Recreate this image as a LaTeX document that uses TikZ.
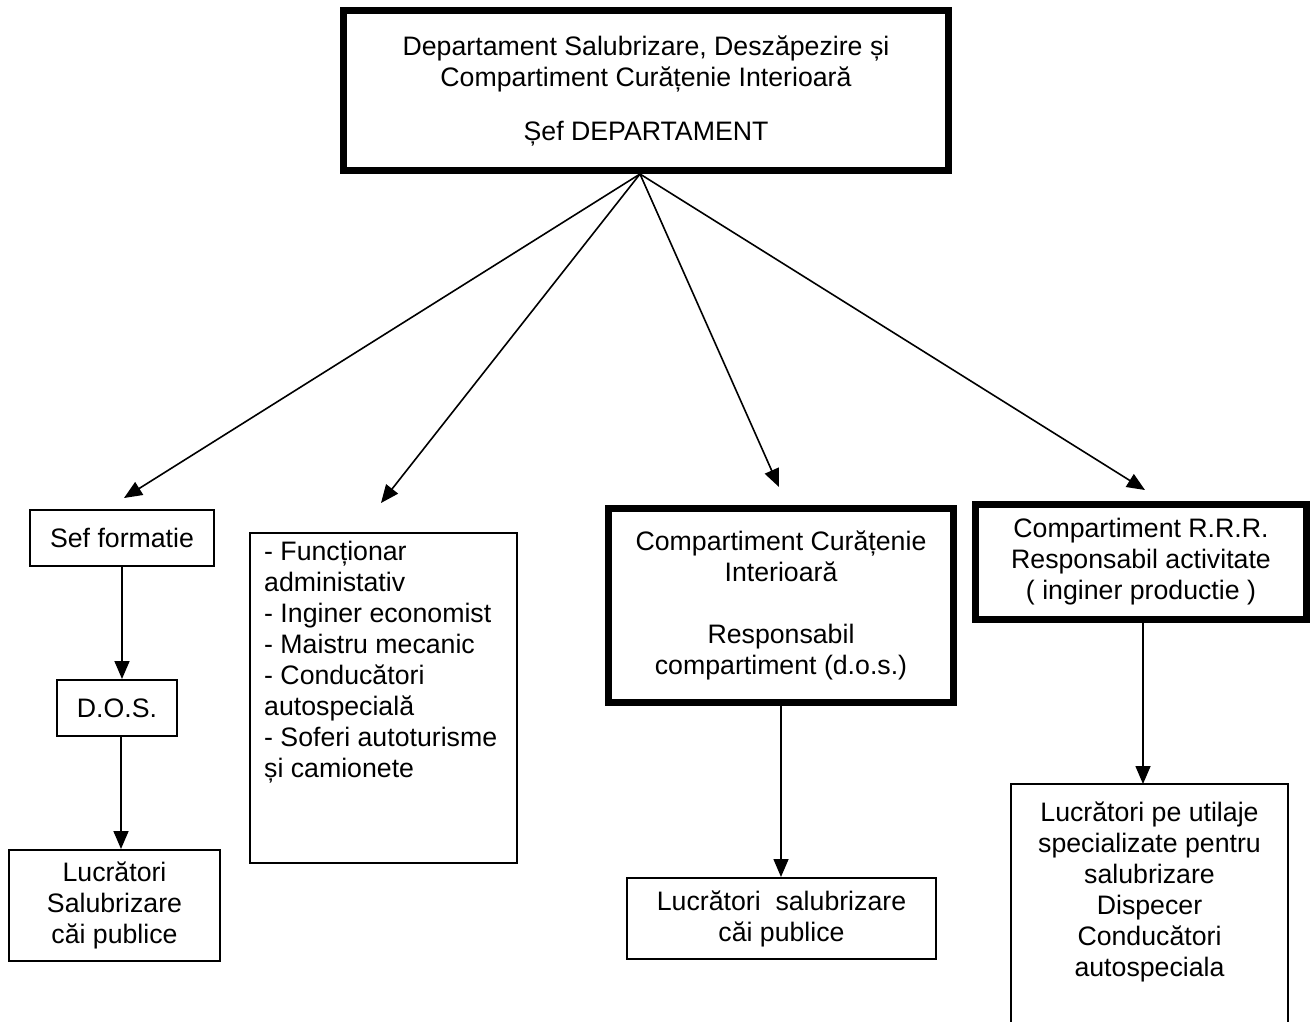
\documentclass[tikz,border=0pt]{standalone}
\usepackage{fontspec}
\setmainfont{Liberation Sans}
\usetikzlibrary{arrows.meta}
\begin{document}
\begin{tikzpicture}[x=1pt,y=-1pt,
  every node/.style={font=\fontsize{26.7}{31}\selectfont, inner sep=0pt},
  thinbox/.style={draw, line width=2pt, rectangle, align=center},
  thickbox/.style={draw, line width=7pt, rectangle, align=center},
  conn/.style={line width=1.6pt, -{Triangle[length=18pt,width=15pt]}},
  plain/.style={line width=2pt}]
\useasboundingbox (0,0) rectangle (1315,1021);

% top box
\node[thickbox, minimum width=605pt, minimum height=160pt] (top) at (646,90.5)
  {Departament Salubrizare, Deszăpezire și\\Compartiment Curățenie Interioară\\[23pt]Șef DEPARTAMENT};

% second level
\node[thinbox, minimum width=184pt, minimum height=56pt] (sf) at (122,538) {Sef formatie};
\node[thinbox, minimum width=267pt, minimum height=330pt] (lst) at (383.5,698) {};
\node[anchor=north west, align=left] (lsttxt) at (264,541)
  {- Funcționar\\administativ\\- Inginer economist\\- Maistru mecanic\\- Conducători\\autospecială\\- Soferi autoturisme\\și camionete};
\node[thickbox, minimum width=345pt, minimum height=194pt] (cci) at (781,605.5)
  {Compartiment Curățenie\\Interioară\\[31pt]Responsabil\\compartiment (d.o.s.)};
\node[thickbox, minimum width=331pt, minimum height=115pt] (rrr) at (1141,562)
  {Compartiment R.R.R.\\Responsabil activitate\\( inginer productie )};

% third level
\node[thinbox, minimum width=120pt, minimum height=56pt] (dos) at (117,708) {D.O.S.};
\node[thinbox, minimum width=211pt, minimum height=111pt] (lucl) at (114.5,905.5)
  {Lucrători\\Salubrizare\\căi publice};
\node[thinbox, minimum width=309pt, minimum height=81pt] (lucm) at (781.5,918.5)
  {Lucrători\ \ salubrizare\\căi publice};

% bottom right open box
\coordinate (brtop) at (1143,784);
\draw[plain] (1011,1023) -- (1011,784) -- (1288,784) -- (1288,1023);
\node[anchor=north, align=center] (br) at (1149.5,802)
  {Lucrători pe utilaje\\specializate pentru\\salubrizare\\Dispecer\\Conducători\\autospeciala};

% arrow tips from top
\coordinate (t1) at (124,498);
\coordinate (t2) at (381,503);
\coordinate (t3) at (779,487);
\coordinate (t4) at (1145,490);
\draw[conn] ([xshift=-6pt]top.south) -- (t1);
\draw[conn] ([xshift=-6pt]top.south) -- (t2);
\draw[conn] ([xshift=-6pt]top.south) -- (t3);
\draw[conn] ([xshift=-6pt]top.south) -- (t4);

% vertical connectors
\draw[conn] (sf.south) -- (sf.south |- dos.north);
\draw[conn] ([xshift=4pt]dos.south) -- ([xshift=4pt]dos.south |- lucl.north);
\draw[conn] (cci.south) -- (cci.south |- lucm.north);
\draw[conn] ([xshift=2pt]rrr.south) -- (brtop);
\end{tikzpicture}
\end{document}
